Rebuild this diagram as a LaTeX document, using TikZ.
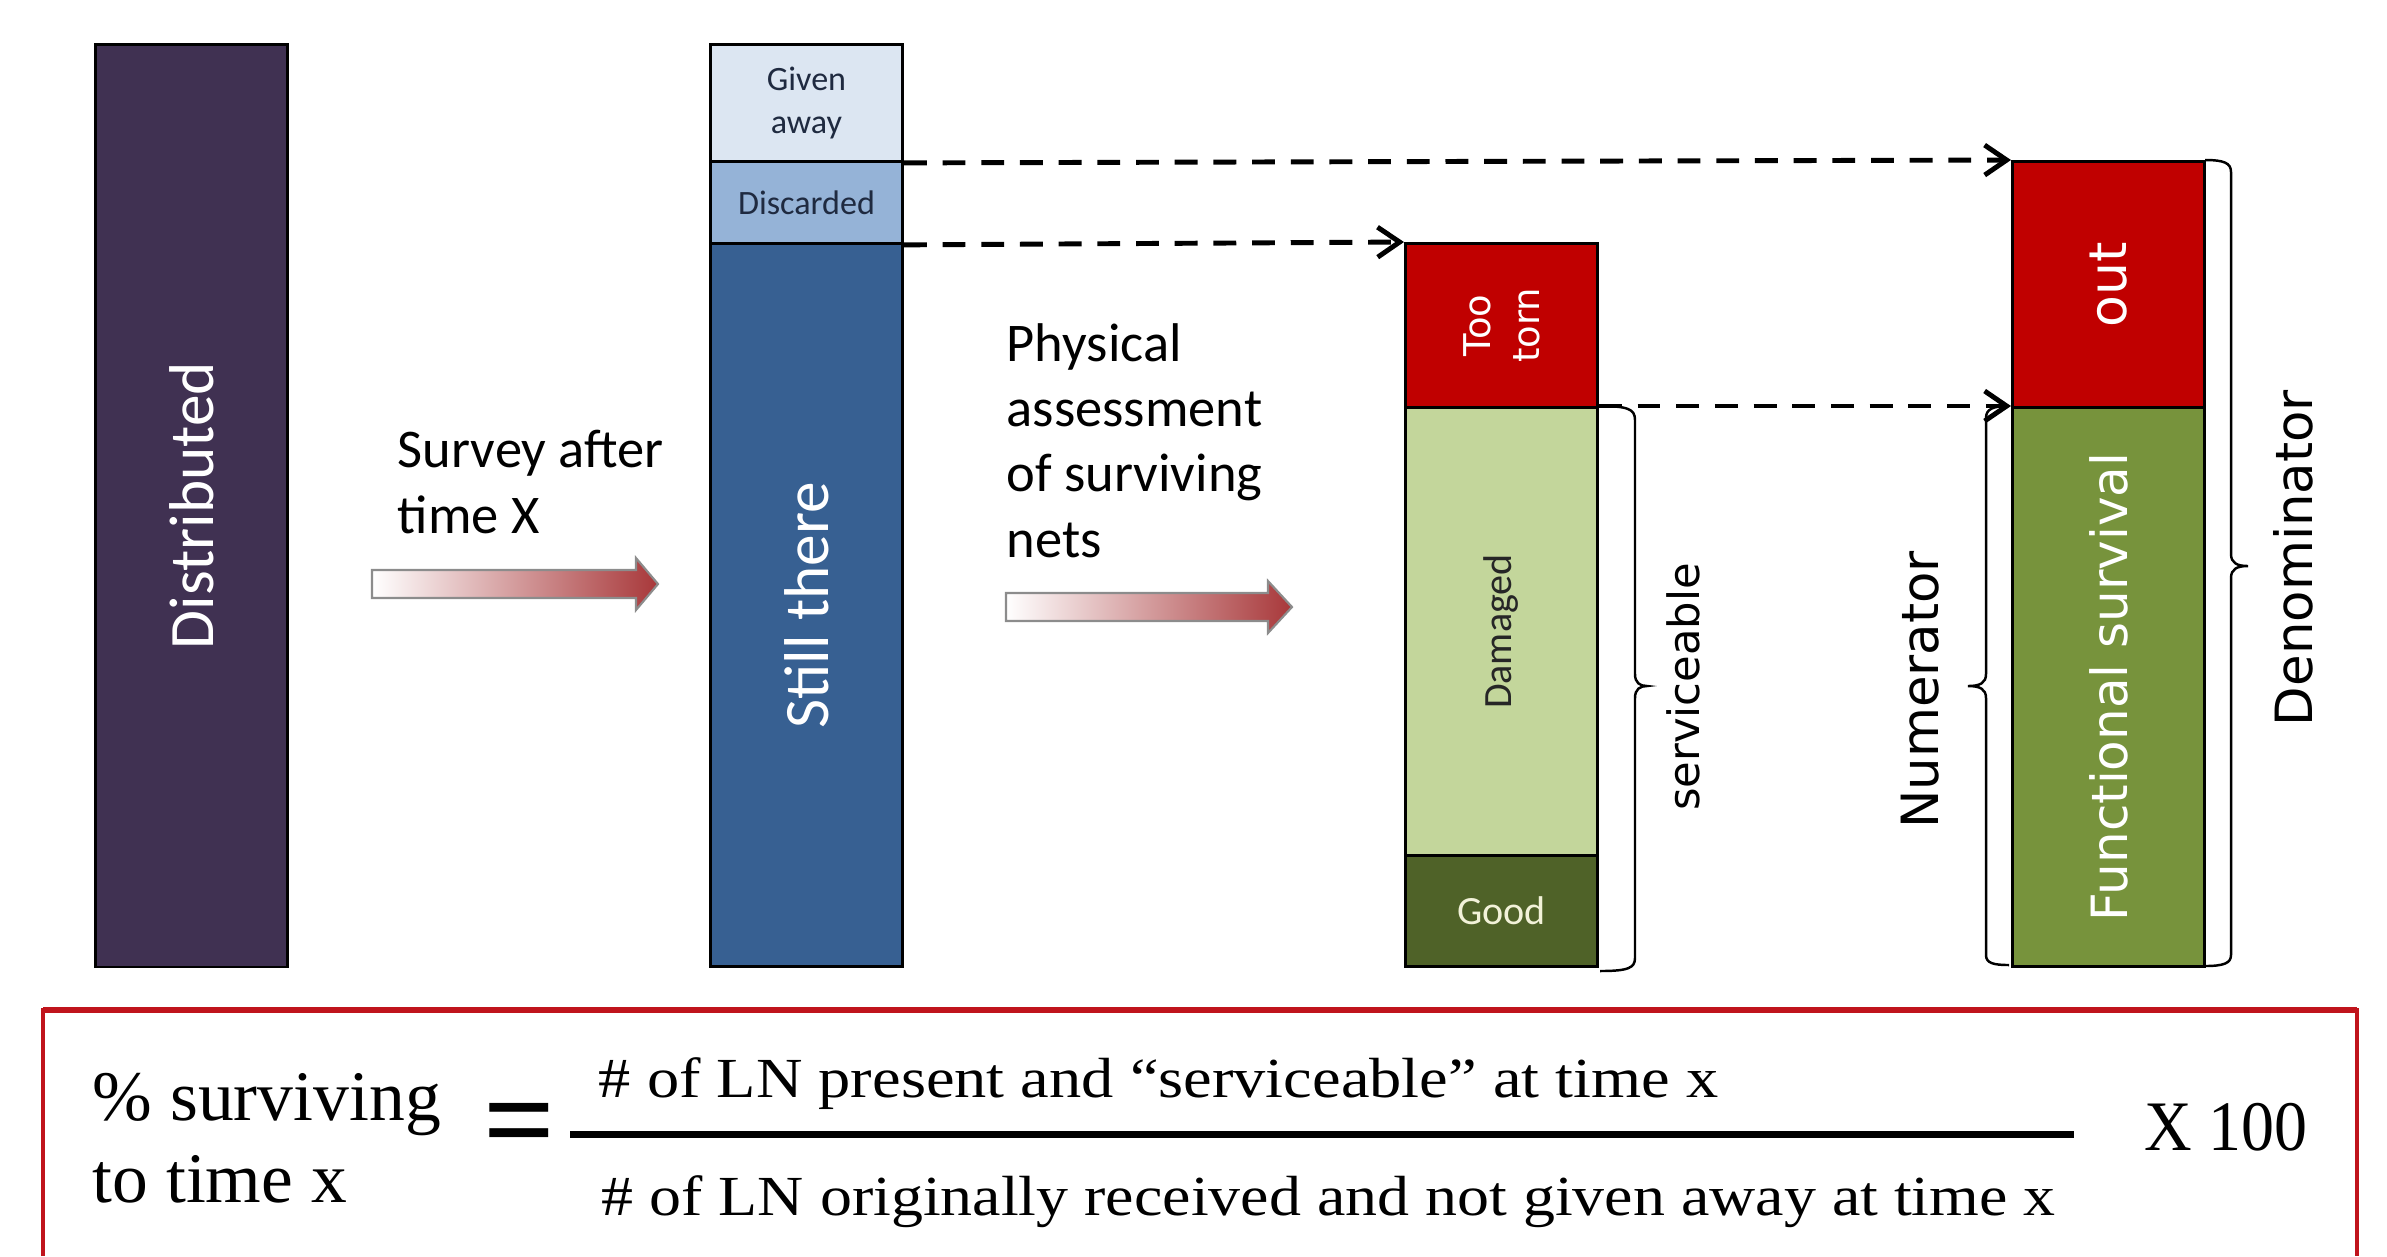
\documentclass[tikz,border=0pt]{standalone}
\usepackage{fontspec}
\usepackage{graphicx}
\setmainfont{Carlito}
\newfontfamily\verd{DejaVu Sans}
\newfontfamily\camb{Liberation Serif}
\usetikzlibrary{arrows.meta}
\definecolor{distc}{HTML}{403152}
\definecolor{givec}{HTML}{DCE6F2}
\definecolor{discc}{HTML}{95B3D7}
\definecolor{stillc}{HTML}{376092}
\definecolor{redc}{HTML}{C00000}
\definecolor{dmgc}{HTML}{C3D69B}
\definecolor{goodc}{HTML}{4F6228}
\definecolor{funcc}{HTML}{77933C}
\definecolor{navyt}{HTML}{1F2A40}
\definecolor{creamt}{HTML}{F2F2D9}
\definecolor{boxred}{HTML}{C0141C}
\definecolor{arrred}{HTML}{A8383A}
\begin{document}
\begin{tikzpicture}[x=0.01cm,y=-0.01cm,
  seg/.style={draw=black,line width=0.8pt,inner sep=0pt,anchor=north west,minimum width=1.92cm},
  vtext/.style={rotate=90,inner sep=0pt},
  dasharrow/.style={draw=black,line width=1.4pt,dash pattern=on 6.5pt off 4.5pt,-{Straight Barb[length=0.22cm,width=0.3cm]}},
  bracestyle/.style={draw=black,line width=0.7pt},
  grad/.style={left color=white,right color=arrred,draw=black!45,line width=0.6pt},
  lab/.style={anchor=base west,inner sep=0pt,align=left,font=\fontsize{15.5}{18.5}\selectfont},
  fml/.style={anchor=base west,inner sep=0pt,font=\camb\fontsize{20.2}{24}\selectfont},
  fmls/.style={anchor=base west,inner sep=0pt,font=\camb\fontsize{16.1}{19}\selectfont}]
\useasboundingbox (0,0) rectangle (2387,1256);

% columns
\node[seg,fill=distc,minimum height=9.22cm] (dist) at (94,43) {};
\node[seg,fill=givec,minimum height=1.17cm] (give) at (709,43) {};
\node[seg,fill=discc,minimum height=0.82cm] (disc) at (709,160) {};
\node[seg,fill=stillc,minimum height=7.23cm] (still) at (709,242) {};
\node[seg,fill=redc,minimum height=1.64cm] (torn) at (1404,242) {};
\node[seg,fill=dmgc,minimum height=4.48cm] (dmg) at (1404,406) {};
\node[seg,fill=goodc,minimum height=1.11cm] (good) at (1404,854) {};
\node[seg,fill=redc,minimum height=2.46cm] (out) at (2011,160) {};
\node[seg,fill=funcc,minimum height=5.59cm] (func) at (2011,406) {};

% column texts
\node[vtext,text=white,font=\fontsize{18}{21}\selectfont] (tdist) at (dist.center) {Distributed};
\node[align=center,inner sep=0pt,text=navyt,font=\fontsize{9.7}{12}\selectfont] (tgive) at (give.center) {Given\\away};
\node[inner sep=0pt,text=navyt,font=\fontsize{9.7}{12}\selectfont] (tdisc) at (disc.center) {Discarded};
\node[vtext,text=white,font=\fontsize{18}{21}\selectfont] (tstill) at (still.center) {Still there};
\node[vtext,align=center,text=white,font=\verd\fontsize{10.5}{14}\selectfont] (ttorn) at (torn.center) {Too\\torn};
\node[vtext,text=black!85,font=\fontsize{11.4}{13}\selectfont] (tdmg) at (dmg.center) {Damaged};
\node[inner sep=0pt,text=creamt,font=\fontsize{11.4}{13}\selectfont] (tgood) at (good.center) {Good};
\node[vtext,text=white,font=\verd\fontsize{14.8}{17}\selectfont] (tout) at (out.center) {out};
\node[vtext,text=white,font=\verd\fontsize{14.2}{17}\selectfont] (tfunc) at (func.center) {Functional survival};

% side labels
\node[vtext,font=\verd\fontsize{12.3}{15}\selectfont] (tserv) at (1683,687) {serviceable};
\node[vtext,font=\verd\fontsize{14.6}{17}\selectfont] (tnum) at (1920,690) {Numerator};
\node[vtext,font=\verd\fontsize{14.6}{17}\selectfont] (tden) at (2293,558) {Denominator};

% process labels
\node[lab] (survey) at (397,533) {Survey after\\time X};
\node[lab] (phys) at (1006,557) {Physical\\assessment\\of surviving\\nets};

% gradient arrows
\shadedraw[grad] (372,570) -- (636,570) -- (636,558) -- (658,584) -- (636,610) -- (636,598) -- (372,598) -- cycle;
\shadedraw[grad] (1006,593) -- (1268,593) -- (1268,581) -- (1292,607) -- (1268,633) -- (1268,621) -- (1006,621) -- cycle;

% dashed arrows
\draw[dasharrow] (give.south east) -- (out.north west);
\draw[dasharrow] (disc.south east) -- (torn.north west);
\draw[dasharrow] (dmg.north east) -- (func.north west);

% braces
\draw[bracestyle] (1598,406) .. controls (1628,406) and (1635,409) .. (1635,420) -- (1635,674)
  .. controls (1635,683) and (1640,686) .. (1647,686) .. controls (1640,686) and (1635,689) .. (1635,698)
  -- (1635,958) .. controls (1635,968) and (1628,971) .. (1600,971);
\draw[bracestyle] (2009,406) .. controls (1993,406) and (1986,409) .. (1986,418) -- (1986,674)
  .. controls (1986,683) and (1980,686) .. (1968,686) .. controls (1980,686) and (1986,689) .. (1986,698)
  -- (1986,955) .. controls (1986,963) and (1993,965) .. (2009,965);
\draw[bracestyle] (2205,160) .. controls (2224,160) and (2231,163) .. (2231,172) -- (2231,554)
  .. controls (2231,563) and (2237,566) .. (2248,566) .. controls (2237,566) and (2231,569) .. (2231,578)
  -- (2231,955) .. controls (2231,963) and (2224,966) .. (2205,966);

% formula box
\draw[boxred,line width=1.1pt] (43,1256) -- (43,1010) -- (2357,1010) -- (2357,1256);
\draw[boxred,line width=1.8pt] (43,1010) -- (2357,1010);

% formula
\node[fml] (lhs1) at (92,1120) {\resizebox{3.48cm}{\height}{\% surviving}};
\node[fml] (lhs2) at (92,1202) {\resizebox{2.54cm}{\height}{to time x}};
\node[inner sep=0pt,font=\camb\bfseries\fontsize{36}{40}\selectfont] (eq) at (520,1133) {=};
\coordinate (fl) at (570,1134);
\coordinate (fr) at (2074,1134);
\draw[line width=2pt] (fl) -- (fr);
\node[fmls] (num) at (598,1097) {\resizebox{11.19cm}{\height}{\# of LN present and “serviceable” at time x}};
\node[fmls] (den) at (601,1215) {\resizebox{14.53cm}{\height}{\# of LN originally received and not given away at time x}};
\node[fml] (x100) at (2144,1150) {\resizebox{1.63cm}{\height}{X 100}};
\end{tikzpicture}
\end{document}
